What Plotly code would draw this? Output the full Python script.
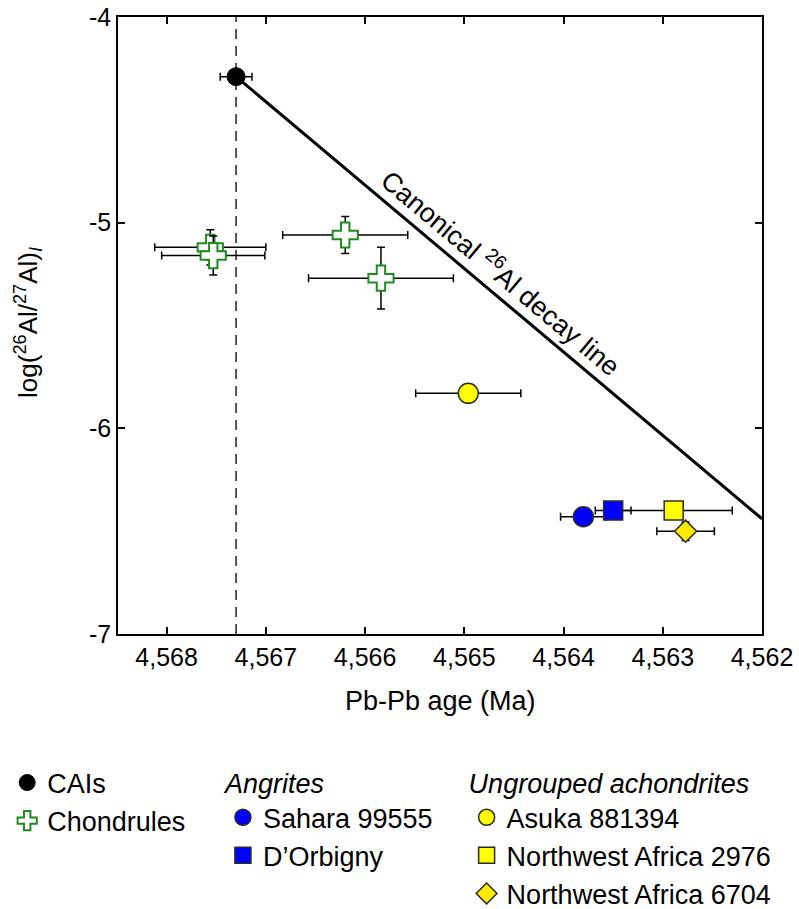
import plotly.graph_objects as go

# --- data -----------------------------------------------------------------
# CAIs
cai_age = [4567.30]
cai_age_err = [0.16]
cai_log = [-4.29]

# Chondrules
chon_age = [4567.56, 4567.53, 4566.20, 4565.84]
chon_age_err = [0.56, 0.52, 0.63, 0.73]
chon_log = [-5.12, -5.16, -5.06, -5.27]
chon_log_err = [0.086, 0.095, 0.09, 0.15]

# Angrites
sah_age, sah_age_err, sah_log = [4563.80], [0.23], [-6.43]
dorb_age, dorb_age_err, dorb_log = [4563.50], [0.18], [-6.40]

# Ungrouped achondrites
asuka_age, asuka_age_err, asuka_log = [4564.96], [0.53], [-5.83]
nwa2976_age, nwa2976_age_err, nwa2976_log = [4562.89], [0.59], [-6.40]
nwa6704_age, nwa6704_age_err, nwa6704_log = [4562.77], [0.29], [-6.50]
nwa6704_log_err = [0.045]

# Canonical 26Al decay line (from the CAI value to the plot edge)
line_age = [4567.30, 4562.0]
line_log = [-4.29, -6.44]

# axes
x_range = [4568.49, 4562.0]
y_range = [-7, -4]
x_ticks = [4568, 4567, 4566, 4565, 4564, 4563, 4562]
x_ticktext = ["4,568", "4,567", "4,566", "4,565", "4,564", "4,563", "4,562"]
y_ticks = [-7, -6, -5, -4]
y_ticktext = ["-7", "-6", "-5", "-4"]

FONT = "Liberation Sans, Arial, Helvetica, sans-serif"
EDGE = "#2a2a2a"
GREEN = "#1e8c1e"


def err(vals, thick=1.5, width=4):
    return dict(type="data", array=vals, visible=True, color="black",
                thickness=thick, width=width)


fig = go.Figure()

# vertical dashed line at the CAI age
fig.add_trace(go.Scatter(
    x=[cai_age[0], cai_age[0]], y=y_range, mode="lines",
    line=dict(color="#222", width=1.5, dash="10px,7px"),
    showlegend=False, hoverinfo="skip"))

# decay line
fig.add_trace(go.Scatter(
    x=line_age, y=line_log, mode="lines",
    line=dict(color="black", width=3), showlegend=False, hoverinfo="skip"))

# chondrules (drawn one by one so the lower cross sits on top)
for i in range(len(chon_age)):
    fig.add_trace(go.Scatter(
        x=[chon_age[i]], y=[chon_log[i]], mode="markers",
        error_x=err([chon_age_err[i]]), error_y=err([chon_log_err[i]]),
        marker=dict(symbol="cross", size=21, color="white",
                    line=dict(color=GREEN, width=2)),
        name="Chondrules", legendgroup="chon", showlegend=(i == 0),
        legend="legend"))

# ungrouped achondrites
fig.add_trace(go.Scatter(
    x=asuka_age, y=asuka_log, mode="markers", error_x=err(asuka_age_err),
    marker=dict(symbol="circle", size=20, color="#ffff00",
                line=dict(color=EDGE, width=1.5)),
    name="Asuka 881394", legend="legend3"))
fig.add_trace(go.Scatter(
    x=nwa2976_age, y=nwa2976_log, mode="markers", error_x=err(nwa2976_age_err),
    marker=dict(symbol="square", size=19, color="#ffff00",
                line=dict(color=EDGE, width=1.5)),
    name="Northwest Africa 2976", legend="legend3"))
fig.add_trace(go.Scatter(
    x=nwa6704_age, y=nwa6704_log, mode="markers",
    error_x=err(nwa6704_age_err), error_y=err(nwa6704_log_err),
    marker=dict(symbol="diamond", size=17, color="#ffea00",
                line=dict(color=EDGE, width=1.5)),
    name="Northwest Africa 6704", legend="legend3"))

# angrites
fig.add_trace(go.Scatter(
    x=sah_age, y=sah_log, mode="markers", error_x=err(sah_age_err),
    marker=dict(symbol="circle", size=20, color="#0000ff",
                line=dict(color=EDGE, width=1.5)),
    name="Sahara 99555", legend="legend2"))
fig.add_trace(go.Scatter(
    x=dorb_age, y=dorb_log, mode="markers", error_x=err(dorb_age_err),
    marker=dict(symbol="square", size=19, color="#0000ff",
                line=dict(color=EDGE, width=1.5)),
    name="D\u2019Orbigny", legend="legend2"))

# CAIs
fig.add_trace(go.Scatter(
    x=cai_age, y=cai_log, mode="markers", error_x=err(cai_age_err),
    marker=dict(symbol="circle", size=18, color="black",
                line=dict(color="black", width=1)),
    name="CAIs", legend="legend", legendrank=1))

# label along the decay line
mid_age = (line_age[0] + line_age[1]) / 2
mid_log = (line_log[0] + line_log[1]) / 2
fig.add_annotation(
    x=mid_age, y=mid_log, xref="x", yref="y",
    text="Canonical <sup>26</sup>Al decay line", showarrow=False,
    textangle=40, xshift=3, yshift=26,
    font=dict(family=FONT, size=27, color="black"))

# axis titles
fig.add_annotation(
    x=-0.1398, y=0.5057, xref="paper", yref="paper",
    text="log(<sup>26</sup>Al/<sup>27</sup>Al)<sub><i>I</i></sub>",
    showarrow=False, textangle=-90, xanchor="center", yanchor="middle",
    font=dict(family=FONT, size=26, color="black"))
fig.add_annotation(
    x=0.5, y=-0.1086, xref="paper", yref="paper",
    text="Pb-Pb age (Ma)", showarrow=False,
    xanchor="center", yanchor="middle",
    font=dict(family=FONT, size=27, color="black"))

legend_common = dict(
    xref="container", yref="container", xanchor="left", yanchor="top",
    font=dict(family=FONT, size=27, color="black"), bgcolor="rgba(0,0,0,0)",
    itemsizing="trace", tracegroupgap=0, borderwidth=0)

fig.update_layout(
    width=799, height=909,
    margin=dict(l=118, r=37, t=17, b=275, autoexpand=False),
    paper_bgcolor="white", plot_bgcolor="white",
    font=dict(family=FONT, size=25, color="black"),
    showlegend=True,
    legend=dict(x=0.009, y=0.1656, traceorder="normal", **legend_common),
    legend2=dict(x=0.279, y=0.166,
                 title=dict(text="<i>Angrites</i>",
                            font=dict(family=FONT, size=27)),
                 **legend_common),
    legend3=dict(x=0.584, y=0.166,
                 title=dict(text="<i>Ungrouped achondrites</i>",
                            font=dict(family=FONT, size=27)),
                 **legend_common),
    xaxis=dict(
        range=x_range, tickvals=x_ticks, ticktext=x_ticktext,
        ticks="inside", ticklen=7, tickwidth=1.5, tickcolor="black",
        showline=True, linecolor="black", linewidth=1.5, mirror="ticks",
        showgrid=False, zeroline=False, automargin=False,
        tickfont=dict(family=FONT, size=25)),
    yaxis=dict(
        range=y_range, tickvals=y_ticks, ticktext=y_ticktext,
        ticks="inside", ticklen=7, tickwidth=1.5, tickcolor="black",
        showline=True, linecolor="black", linewidth=1.5, mirror="ticks",
        showgrid=False, zeroline=False, automargin=False,
        tickfont=dict(family=FONT, size=25)),
)

fig.write_html("out.html")
